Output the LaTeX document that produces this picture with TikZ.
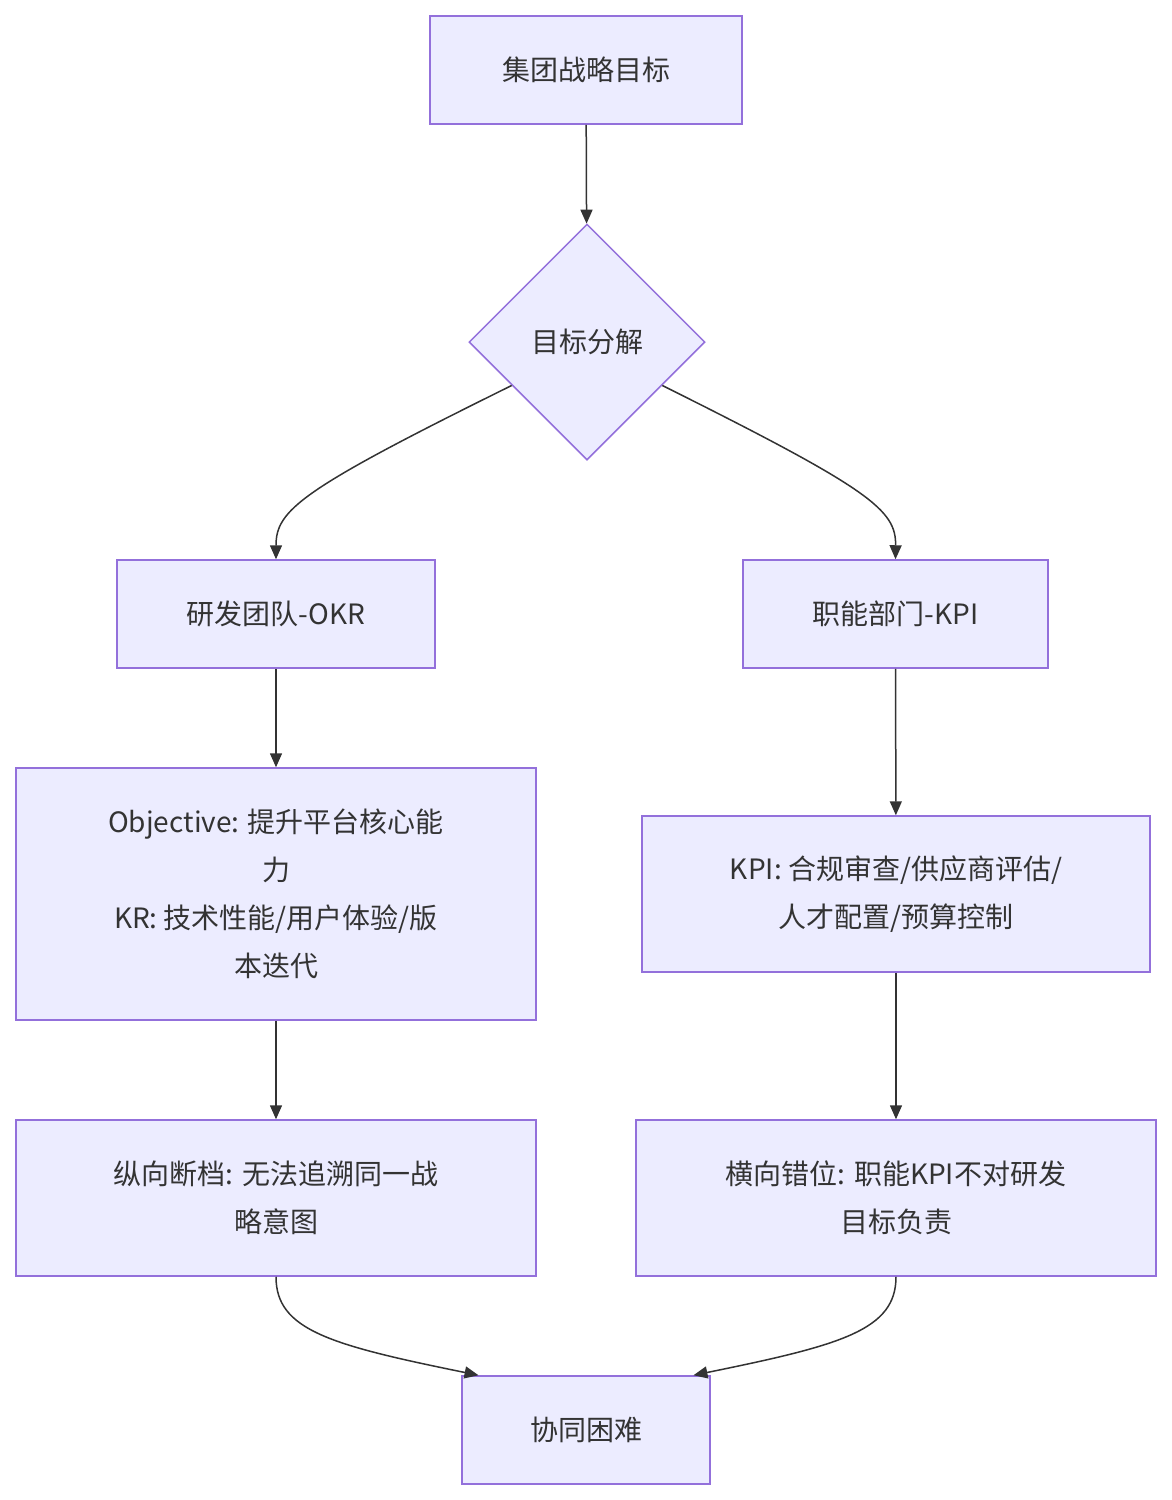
\documentclass[tikz,border=0pt]{standalone}
\usepackage{fontspec}
\setmainfont{Noto Sans CJK SC}
\usetikzlibrary{shapes.geometric,arrows.meta}
\definecolor{boxfill}{HTML}{ECECFF}
\definecolor{boxline}{HTML}{9370DB}
\definecolor{ink}{HTML}{333333}
\tikzset{>={Triangle[length=14pt,width=12pt]}}
\tikzstyle{block} = [rectangle, draw=boxline, fill=boxfill, line width=1.5pt,
    text=ink, align=center, inner sep=0pt, font=\fontsize{28}{48}\selectfont]
\tikzstyle{link} = [->, draw=ink, line width=1.5pt]

\begin{document}
\begin{tikzpicture}[x=1pt,y=-1pt]
  \useasboundingbox (0,0) rectangle (1172,1500);
  \node [block, minimum width=312, minimum height=108] (goal) at (586,70) {集团战略目标};
  \node [block, diamond, aspect=1, minimum width=236, minimum height=236] (split) at (587,342) {目标分解};
  \node [block, minimum width=318, minimum height=108] (rd) at (276,614) {研发团队-OKR};
  \node [block, minimum width=305, minimum height=108] (fn) at (895.5,614) {职能部门-KPI};
  \node [block, minimum width=520, minimum height=252] (obj) at (276,894)
    {Objective: 提升平台核心能\\力\\KR: 技术性能/用户体验/版\\本迭代};
  \node [block, minimum width=508, minimum height=156] (kpi) at (896,894)
    {KPI: 合规审查/供应商评估/\\人才配置/预算控制};
  \node [block, minimum width=520, minimum height=156] (vert) at (276,1198)
    {纵向断档: 无法追溯同一战\\略意图};
  \node [block, minimum width=520, minimum height=156] (horz) at (896,1198)
    {横向错位: 职能KPI不对研发\\目标负责};
  \node [block, minimum width=248, minimum height=108] (hard) at (586,1430) {协同困难};

  \draw [link] (goal) -- (split);
  \draw [link] (split.210) .. controls (300,490) and (276,510) .. (rd.north);
  \draw [link] (split.330) .. controls (872,490) and (896,510) .. (fn.north);
  \draw [link] (rd) -- (obj);
  \draw [link] (fn) -- (kpi);
  \draw [link] (obj) -- (vert);
  \draw [link] (kpi) -- (horz);
  \draw [link] (vert.south) .. controls (276,1330) and (330,1345) .. (hard.153);
  \draw [link] (horz.south) .. controls (896,1330) and (842,1345) .. (hard.27);
\end{tikzpicture}
\end{document}
